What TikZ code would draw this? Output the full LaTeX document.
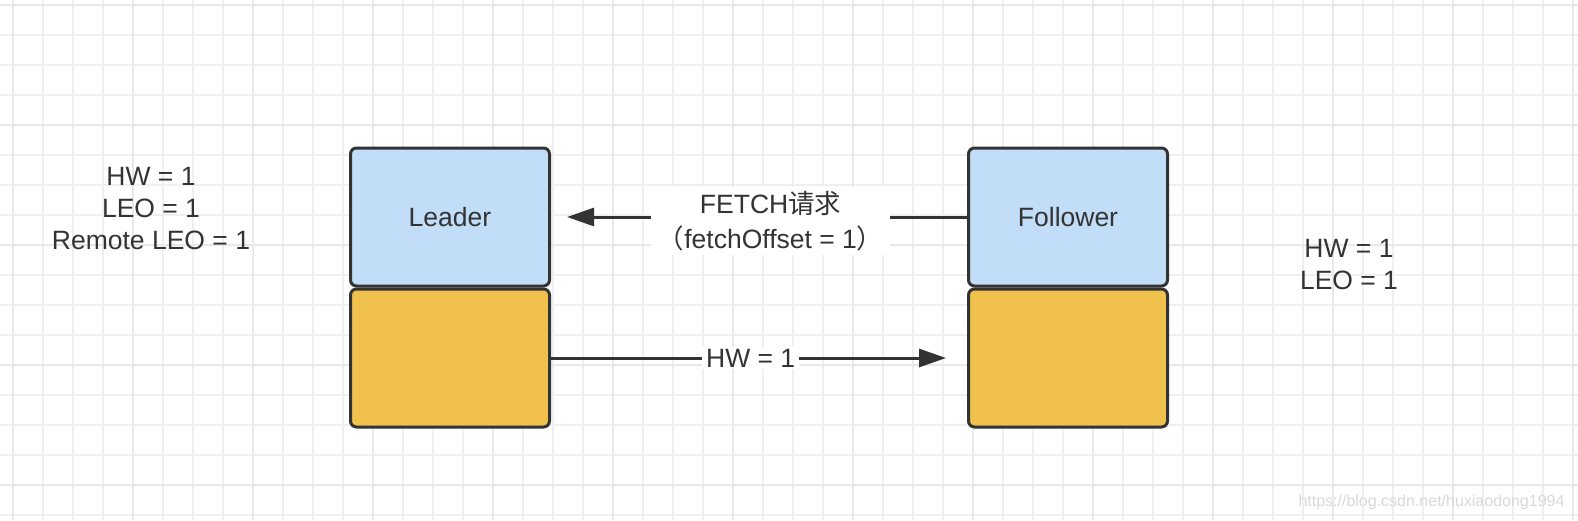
\documentclass[tikz,border=0pt]{standalone}
\usepackage{fontspec}
\setmainfont{Liberation Sans}
\newfontfamily\cjk{Noto Sans CJK SC}
\usetikzlibrary{arrows.meta}
\definecolor{ink}{HTML}{333333}
\definecolor{lblue}{HTML}{C2DDF7}
\definecolor{lyell}{HTML}{F1C14E}
\definecolor{gminor}{HTML}{EFEFEF}
\definecolor{gmajor}{HTML}{E8E8E8}
\tikzset{
  box/.style={draw=ink, line width=3pt, rounded corners=6pt, minimum width=199pt, minimum height=138pt, inner sep=0pt, text=ink, font=\fontsize{26.5}{32}\selectfont},
  topbox/.style={box, fill=lblue},
  botbox/.style={box, fill=lyell},
  conn/.style={draw=ink, line width=3pt, -{Triangle[length=27pt,width=18pt]}},
  lbl/.style={fill=white, text=ink, align=center, font=\fontsize{26.5}{35}\selectfont, inner xsep=7pt, inner ysep=4pt},
  info/.style={text=ink, align=center, font=\fontsize{26.5}{32}\selectfont, inner sep=0pt},
}
\begin{document}
\begin{tikzpicture}[x=1pt,y=-1pt]
\useasboundingbox (0,0) rectangle (1578,520);
\fill[white] (0,0) rectangle (1578,520);
% grid
\foreach \x in {13,43,...,1578} \draw[gminor, line width=1.6pt] (\x,0) -- (\x,520);
\foreach \y in {5,35,...,520} \draw[gminor, line width=1.6pt] (0,\y) -- (1578,\y);
\foreach \x in {13,133,...,1578} \draw[gmajor, line width=2.2pt] (\x,0) -- (\x,520);
\foreach \y in {5,125,...,520} \draw[gmajor, line width=2.2pt] (0,\y) -- (1578,\y);
% boxes
\node[topbox] (lt) at (450,217) {Leader};
\node[botbox] (lb) at (450,358) {};
\node[topbox] (ft) at (1068,217) {Follower};
\node[botbox] (fb) at (1068,358) {};
% connectors
\draw[conn, shorten >=16pt] (ft.west) -- node[lbl, pos=0.472, yshift=-4pt] {FETCH{\cjk 请求}\\{\cjk （}fetchOffset = 1{\cjk ）}} (lt.east);
\draw[conn, shorten >=21pt] (lb.east) -- node[lbl, inner xsep=4pt, inner ysep=2pt, pos=0.48] {HW = 1} (fb.west);
% info texts
\node[info] (linfo) at (151,209) {HW = 1\\LEO = 1\\Remote LEO = 1};
\node[info] (finfo) at (1349,265) {HW = 1\\LEO = 1};
\node[text=gray!30, font=\fontsize{16}{16}\selectfont, anchor=east] (wm) at (1568,502) {https://blog.csdn.net/huxiaodong1994};
\end{tikzpicture}
\end{document}
